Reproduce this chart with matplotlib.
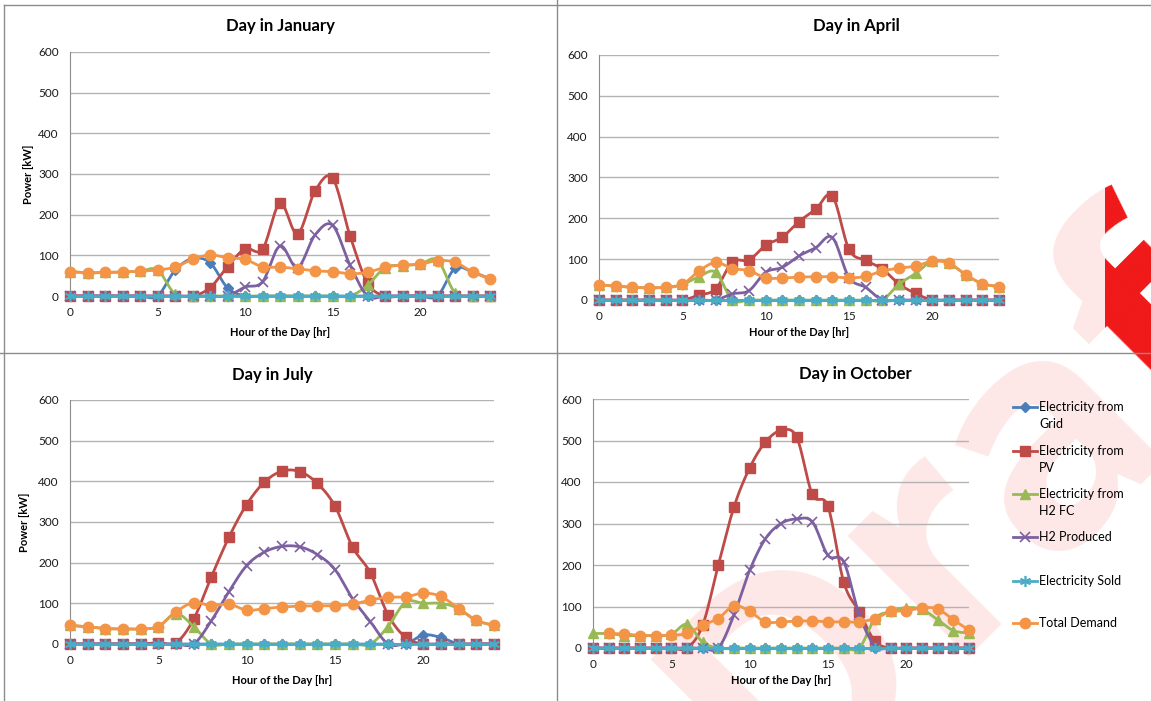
import numpy as np
import matplotlib
matplotlib.use('agg')
from matplotlib import pyplot as plt
from matplotlib.lines import Line2D
from matplotlib.patches import Rectangle

plt.rcParams['font.family'] = ['Lato', 'DejaVu Sans']

W, H = 1151, 701
nan = np.nan

hours = list(range(25))

labels = ['Electricity from\nGrid', 'Electricity from\nPV', 'Electricity from\nH2 FC',
          'H2 Produced', 'Electricity Sold', 'Total Demand']

# January
jan_grid = [0, 0, 0, 0, 0, 0, 63, 92, 82, 20, 0, 0, 0, 0, 0, 0, 0, 0, 0, 0, 0, 0, 68, 59, 42]
jan_pv = [0, 0, 0, 0, 0, 0, 0, 0, 20, 72, 116, 115, 228, 153, 258, 290, 148, 32, 0, 0, 0, 0, 0, 0, 0]
jan_fc = [60, 57, 58, 59, 61, 64, 5, 0, 0, 0, 0, 0, 0, 0, 0, 0, 0, 26, 70, 75, 78, 88, 8, 0, 0]
jan_h2 = [0, 0, 0, 0, 0, 0, 0, 0, 0, 0, 22, 35, 123, 70, 150, 174, 76, 0, 0, 0, 0, 0, 0, 0, 0]
jan_sold = [0] * 25
jan_demand = [60, 57, 58, 59, 61, 64, 71, 90, 101, 94, 90, 72, 71, 67, 62, 60, 55, 58, 71, 76, 78, 87, 83, 59, 42]

# April
apr_grid = [0] * 25
apr_pv = [0, 0, 0, 0, 0, 0, 12, 27, 93, 98, 134, 154, 192, 222, 255, 124, 97, 76, 39, 16, 0, 0, 0, 0, 0]
apr_fc = [37, 34, 31, 30, 31, 38, 57, 68, 0, 0, 0, 0, 0, 0, 0, 0, 0, 0, 39, 65, 95, 90, 62, 40, 33]
apr_h2 = [0, 0, 0, 0, 0, 0, 0, 0, 15, 23, 68, 80, 108, 128, 153, 55, 31, 0, 0, 0, 0, 0, 0, 0, 0]
apr_sold = [0] * 25
apr_demand = [37, 34, 31, 30, 31, 38, 71, 92, 77, 72, 54, 54, 56, 57, 57, 54, 58, 71, 78, 83, 95, 90, 62, 40, 33]

# July
jul_grid = [0, 0, 0, 0, 0, 0, 0, 0, 0, 0, 0, 0, 0, 0, 0, 0, 0, 0, 0, 0, 22, 16, 0, 0, 0]
jul_pv = [0, 0, 0, 0, 0, 3, 3, 61, 165, 263, 343, 398, 425, 424, 395, 339, 238, 175, 72, 16, 0, 0, 0, 0, 0]
jul_fc = [46, 42, 38, 37, 37, 43, 75, 43, 0, 0, 0, 0, 0, 0, 0, 0, 0, 0, 43, 103, 100, 100, 87, 58, 46]
jul_h2 = [0, 0, 0, 0, 0, 0, 0, 0, 57, 129, 193, 226, 240, 239, 220, 183, 111, 55, 0, 0, 0, 0, 0, 0, 0]
jul_sold = [0] * 25
jul_demand = [46, 42, 38, 37, 37, 43, 79, 102, 94, 98, 83, 87, 91, 93, 94, 94, 98, 108, 115, 116, 125, 117, 87, 58, 46]

# October
oct_grid = [0] * 25
oct_pv = [0, 0, 0, 0, 0, 0, 0, 55, 200, 340, 434, 496, 524, 508, 370, 341, 159, 87, 16, 0, 0, 0, 0, 0, 0]
oct_fc = [35, 35, 30, 30, 30, 33, 57, 14, 0, 0, 0, 0, 0, 0, 0, 0, 0, 0, 71, 88, 97, 93, 68, 42, 36]
oct_h2 = [0, 0, 0, 0, 0, 0, 0, 0, 0, 80, 187, 263, 300, 311, 304, 223, 208, 80, 5, 0, 0, 0, 0, 0, 0]
oct_sold = [0] * 25
oct_demand = [nan, 35, 34, 30, 30, 31, 35, 55, 71, 102, 88, 63, 63, 65, 65, 63, 63, 63, 71, 88, 89, 97, 94, 68, 43]

colors = ['#4A7EBB', '#BE4B48', '#98B954', '#7D60A0', '#4BACC6', '#F39447']
markers = [dict(marker='D', ms=5.5), dict(marker='s', ms=7), dict(marker='^', ms=7.5),
           dict(marker='x', ms=7, mew=1.2), dict(marker=(6, 2, 0), ms=8, mew=1.2),
           dict(marker='o', ms=7.5)]


def px_box(l, t, r, b):
    return [l / W, 1 - b / H, (r - l) / W, (b - t) / H]


def fx(x):
    return x / W


def fy(y):
    return 1 - y / H


def smooth(x, y, n=16):
    # excel style smoothed line (bezier through the points)
    x = np.asarray(x, float)
    y = np.asarray(y, float)
    ok = ~np.isnan(y)
    x, y = x[ok], y[ok]
    px = np.concatenate([[x[0]], x, [x[-1]]])
    py = np.concatenate([[y[0]], y, [y[-1]]])
    t = np.linspace(0, 1, n + 1)[1:]
    xs, ys = [x[0]], [y[0]]
    for i in range(len(x) - 1):
        p0 = np.array([px[i], py[i]])
        p1 = np.array([px[i + 1], py[i + 1]])
        p2 = np.array([px[i + 2], py[i + 2]])
        p3 = np.array([px[i + 3], py[i + 3]])
        c1 = p1 + (p2 - p0) / 6
        c2 = p2 - (p3 - p1) / 6
        for tt in t:
            pt = ((1 - tt) ** 3) * p1 + 3 * ((1 - tt) ** 2) * tt * c1 + 3 * (1 - tt) * tt ** 2 * c2 + tt ** 3 * p2
            xs.append(pt[0])
            ys.append(pt[1])
    return xs, ys


def draw_panel(ax, data):
    ax.set_facecolor('none')
    for yv in range(100, 700, 100):
        ax.axhline(yv, color='#B3B3B3', lw=1.0, zorder=1)
    for i, vals in enumerate(data):
        sx, sy = smooth(hours, vals)
        ax.plot(sx, sy, color=colors[i], lw=2.0, clip_on=False, zorder=2 + i, solid_capstyle='round')
        ax.plot(hours, vals, ls='none', color=colors[i], mfc=colors[i], mec=colors[i],
                clip_on=False, zorder=2 + i, **markers[i])
    ax.set_xlim(0, 24)
    ax.set_ylim(0, 600)
    ax.set_xticks([0, 5, 10, 15, 20])
    ax.set_yticks(range(0, 700, 100))
    ax.tick_params(length=0, labelsize=8.5, colors='#1a1a1a', pad=8)
    for s in ['top', 'right']:
        ax.spines[s].set_visible(False)
    ax.spines['left'].set_color('#8C8C8C')
    ax.spines['bottom'].set_color('#8C8C8C')


fig = plt.figure(figsize=(W / 100, H / 100), dpi=100)

# watermark behind the charts, pale where the chart areas cover it
fig.text(fx(1010), fy(472), 'Draft', rotation=45, fontsize=225, fontweight='bold',
         color='#F01818', ha='center', va='center', zorder=-3, family='Open Sans')
fig.add_artist(Rectangle((fx(557), fy(701)), fx(1105) - fx(557), 1,
                         transform=fig.transFigure, facecolor='white', alpha=0.9,
                         edgecolor='none', zorder=-2))
fig.add_artist(Rectangle((fx(1105), fy(701)), fx(1151) - fx(1105), fy(372) - fy(701),
                         transform=fig.transFigure, facecolor='white', alpha=0.9,
                         edgecolor='none', zorder=-2))

panels = [
    ('Day in January', px_box(70, 52, 490, 296), [jan_grid, jan_pv, jan_fc, jan_h2, jan_sold, jan_demand],
     280, 26, 332, 28),
    ('Day in April', px_box(599, 55, 999, 300), [apr_grid, apr_pv, apr_fc, apr_h2, apr_sold, apr_demand],
     856, 26, 332, None),
    ('Day in July', px_box(70, 400, 494, 644), [jul_grid, jul_pv, jul_fc, jul_h2, jul_sold, jul_demand],
     272, 375, 680, 24),
    ('Day in October', px_box(593, 399, 969, 648), [oct_grid, oct_pv, oct_fc, oct_h2, oct_sold, oct_demand],
     855, 374, 681, None),
]

for title, box, data, tx, ty, xly, ylx in panels:
    ax = fig.add_axes(box)
    draw_panel(ax, data)
    fig.text(fx(tx), fy(ty), title, ha='center', va='center', fontsize=12, fontweight='bold')
    l = box[0] * W
    r = l + box[2] * W
    fig.text(fx((l + r) / 2), fy(xly), 'Hour of the Day [hr]', ha='center', va='center',
             fontsize=8, fontweight='bold')
    if ylx is not None:
        bot = (1 - box[1]) * H
        top = bot - box[3] * H
        fig.text(fx(ylx), fy((top + bot) / 2), 'Power [kW]', rotation=90, ha='center', va='center',
                 fontsize=8, fontweight='bold')

# legend drawn by hand to keep the excel spacing
leg_y = [407, 451, 494, 537, 581, 623]
for i, lab in enumerate(labels):
    yy = fy(leg_y[i])
    fig.add_artist(Line2D([fx(1013), fx(1037)], [yy, yy], color=colors[i], lw=2.0,
                          transform=fig.transFigure))
    fig.add_artist(Line2D([fx(1025)], [yy], ls='none', color=colors[i], mfc=colors[i], mec=colors[i],
                          transform=fig.transFigure, **markers[i]))
    for j, line in enumerate(lab.split('\n')):
        fig.text(fx(1039), fy(leg_y[i] + 17 * j), line, ha='left', va='center', fontsize=9)

# panel borders
border = '#8C8C8C'
fig.add_artist(Line2D([fx(4), fx(1151)], [fy(5), fy(5)], color=border, lw=1, transform=fig.transFigure))
fig.add_artist(Line2D([fx(4), fx(4)], [fy(5), fy(701)], color=border, lw=1, transform=fig.transFigure))
fig.add_artist(Line2D([fx(557), fx(557)], [fy(0), fy(701)], color=border, lw=1, transform=fig.transFigure))
fig.add_artist(Line2D([fx(0), fx(1151)], [fy(353), fy(353)], color=border, lw=1, transform=fig.transFigure))

fig.savefig('out.png', dpi=100)
